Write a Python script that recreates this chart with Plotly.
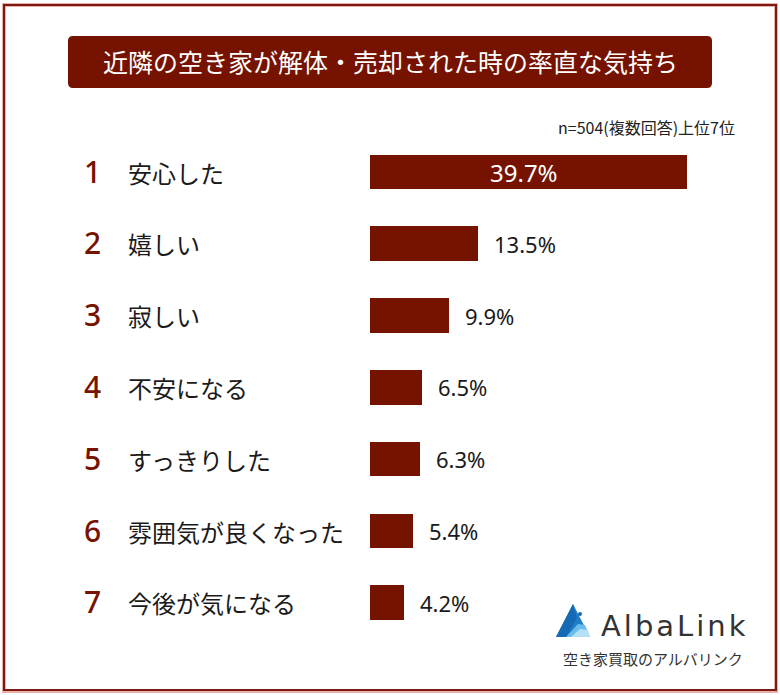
import plotly.graph_objects as go

ranks = ["1", "2", "3", "4", "5", "6", "7"]
categories = ["安心した", "嬉しい", "寂しい", "不安になる", "すっきりした", "雰囲気が良くなった", "今後が気になる"]
values = [39.7, 13.5, 9.9, 6.5, 6.3, 5.4, 4.2]
title_text = "近隣の空き家が解体・売却された時の率直な気持ち"
note_text = "n=504(複数回答)上位7位"

W, H = 780, 695
DARK = "#761300"
JP = "Noto Sans CJK JP"

def px(x):
    return x / W

def py(y):
    return 1 - y / H

fig = go.Figure()
fig.add_trace(go.Bar(
    x=values, y=categories, orientation="h",
    marker=dict(color=DARK, line=dict(width=0)),
    width=0.48, hoverinfo="skip",
))

fig.update_xaxes(domain=[px(370), px(687)], range=[0, values[0]], visible=False, fixedrange=True)
step = 71.8
top = 172 - 0.5 * step
bot = 172 + 6.5 * step
fig.update_yaxes(domain=[py(bot), py(top)], categoryorder="array", categoryarray=categories,
                 autorange="reversed", visible=False, fixedrange=True)

ann = []
for i, (r, c, v) in enumerate(zip(ranks, categories, values)):
    ann.append(dict(x=px(92), y=c, xref="paper", yref="y", text=r, showarrow=False,
                    xanchor="center", yanchor="middle", yshift=1,
                    font=dict(family="Noto Sans", size=30, color=DARK, weight=500)))
    ann.append(dict(x=px(126), y=c, xref="paper", yref="y", text=c, showarrow=False,
                    xanchor="left", yanchor="middle",
                    font=dict(family=JP, size=24, color="#1a1a1a")))
    if i == 0:
        ann.append(dict(x=v / 2, y=c, xref="x", yref="y", text=f"{v}%", showarrow=False,
                        xanchor="center", yanchor="middle", xshift=-5,
                        font=dict(family="Noto Sans", size=24, color="white")))
    else:
        ann.append(dict(x=v, y=c, xref="x", yref="y", text=f"{v}%", showarrow=False,
                        xanchor="left", yanchor="middle", xshift=14,
                        font=dict(family="Noto Sans", size=22, color="#1a1a1a")))

ann.append(dict(x=px(390), y=py(61), xref="paper", yref="paper", text=title_text, showarrow=False,
                xanchor="center", yanchor="middle",
                font=dict(family=JP, size=25, color="white")))
ann.append(dict(x=px(737), y=py(127), xref="paper", yref="paper", text=note_text, showarrow=False,
                xanchor="right", yanchor="middle",
                font=dict(family=JP, size=16, color="#222222")))
ann.append(dict(x=px(599), y=py(626), xref="paper", yref="paper",
                text='<span style="letter-spacing:3px">AlbaLink</span>', showarrow=False,
                xanchor="left", yanchor="middle",
                font=dict(family="DejaVu Sans", size=29, color="#333333")))
ann.append(dict(x=px(653), y=py(658), xref="paper", yref="paper", text="空き家買取のアルバリンク", showarrow=False,
                xanchor="center", yanchor="middle",
                font=dict(family=JP, size=15, color="#333333")))

shapes = []
shapes.append(dict(type="rect", xref="paper", yref="paper", x0=px(4), x1=px(776), y0=py(691), y1=py(5),
                   line=dict(color="#e8b0a8", width=4), fillcolor="rgba(0,0,0,0)", layer="below"))
shapes.append(dict(type="rect", xref="paper", yref="paper", x0=px(4), x1=px(776), y0=py(690), y1=py(5),
                   line=dict(color="#7a1a10", width=2), fillcolor="rgba(0,0,0,0)", layer="below"))
x0, x1, y0, y1, r = 68, 712, 36, 88, 5
path = (f"M {px(x0+r)} {py(y0)} L {px(x1-r)} {py(y0)} Q {px(x1)} {py(y0)} {px(x1)} {py(y0+r)} "
        f"L {px(x1)} {py(y1-r)} Q {px(x1)} {py(y1)} {px(x1-r)} {py(y1)} "
        f"L {px(x0+r)} {py(y1)} Q {px(x0)} {py(y1)} {px(x0)} {py(y1-r)} "
        f"L {px(x0)} {py(y0+r)} Q {px(x0)} {py(y0)} {px(x0+r)} {py(y0)} Z")
shapes.append(dict(type="path", xref="paper", yref="paper", path=path, fillcolor=DARK,
                   line=dict(width=0), layer="below"))

def tri(pts, color):
    p = "M " + " L ".join(f"{px(a)} {py(b)}" for a, b in pts) + " Z"
    return dict(type="path", xref="paper", yref="paper", path=p, fillcolor=color, line=dict(width=0))

shapes.append(tri([(573, 604), (556, 637), (590, 637)], "#1f80c8"))
shapes.append(tri([(573, 604), (556, 637), (566, 637), (577, 618)], "#1769b3"))
shapes.append(tri([(578, 624), (566, 637), (590, 637), (585, 625)], "#6cbce9"))
shapes.append(tri([(580, 629), (571, 637), (590, 637), (588, 630)], "#b6e0f6"))
shapes.append(dict(type="circle", xref="paper", yref="paper", x0=px(578), x1=px(582),
                   y0=py(616), y1=py(612), fillcolor="#1769b3", line=dict(width=0)))

fig.update_layout(
    width=W, height=H, margin=dict(l=0, r=0, t=0, b=0),
    paper_bgcolor="white", plot_bgcolor="white",
    showlegend=False, annotations=ann, shapes=shapes,
    bargap=0,
)
fig.write_html("out.html", config={"displayModeBar": False})
